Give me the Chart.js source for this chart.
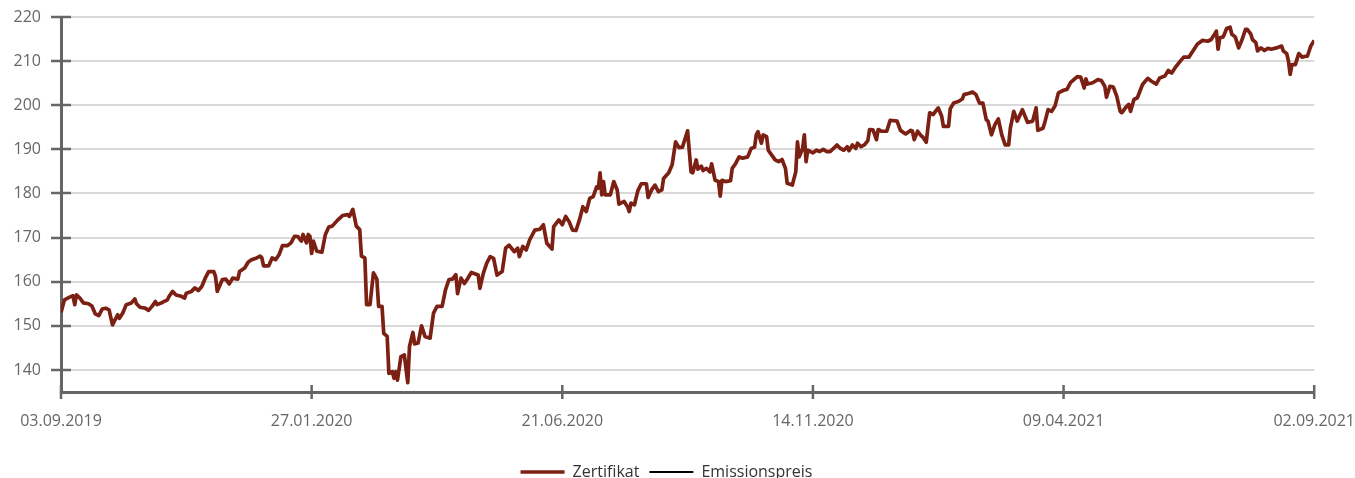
<!DOCTYPE html>
<html lang="de">
<head>
  <meta charset="UTF-8" />
  <title>Zertifikat vs. Emissionspreis</title>
  <script src="https://cdn.jsdelivr.net/npm/chart.js"></script>
  <style>
    body { margin: 0; overflow: hidden; background: #fff; }
    #wrap { position: relative; width: 1355px; height: 490px; }
  </style>
</head>
<body>
<div id="wrap"><canvas id="chart"></canvas></div>
<script>
// Tage seit 03.09.2019 (Kategorien) und Kurswerte des Zertifikats
const days = [
  0, 2, 5, 7, 8, 9, 11, 13, 16, 18, 20, 22, 24, 26, 28, 30, 31, 33, 34, 36, 38, 41, 43, 44, 46, 49, 51, 53, 55, 56,
  59, 62, 63, 65, 67, 70, 72, 73, 76, 78, 80, 82, 84, 86, 89, 90, 91, 94, 96, 98, 100, 103, 104, 107, 109, 111, 114, 116, 117, 118,
  121, 123, 125, 127, 129, 132, 134, 136, 138, 140, 141, 143, 144, 145, 146, 147, 149, 152, 154, 156, 158, 161, 164, 167, 168, 170, 171, 172, 174, 175,
  177, 178, 180, 182, 184, 185, 187, 188, 190, 191, 193, 194, 195, 196, 198, 200, 202, 203, 205, 206, 208, 210, 212, 215, 217, 219, 222, 224, 226, 228,
  230, 231, 233, 235, 237, 239, 241, 243, 244, 246, 248, 250, 252, 254, 257, 259, 261, 264, 266, 267, 269, 271, 273, 276, 279, 281, 283, 286, 287, 290,
  292, 294, 296, 298, 300, 302, 304, 306, 308, 310, 312, 313, 314, 315, 316, 317, 320, 322, 324, 325, 328, 330, 331, 332, 334, 336, 338, 341, 342, 344,
  346, 348, 350, 351, 354, 356, 358, 360, 362, 365, 367, 368, 370, 371, 373, 374, 376, 378, 379, 381, 383, 384, 385, 387, 390, 391, 393, 395, 397, 400,
  402, 404, 405, 406, 408, 409, 411, 412, 414, 416, 418, 420, 422, 423, 426, 428, 429, 430, 432, 433, 434, 435, 438, 440, 442, 444, 446, 448, 450, 452,
  454, 456, 458, 459, 461, 463, 464, 466, 468, 470, 471, 473, 475, 476, 478, 481, 483, 487, 489, 492, 495, 496, 497, 499, 501, 502, 504, 506, 508, 511,
  513, 514, 517, 518, 520, 523, 525, 526, 529, 531, 533, 535, 537, 539, 540, 542, 544, 546, 548, 550, 552, 553, 555, 557, 560, 562, 563, 566, 568, 569,
  572, 573, 575, 577, 579, 581, 584, 586, 588, 590, 592, 594, 596, 597, 598, 601, 604, 606, 608, 609, 611, 613, 615, 617, 618, 620, 622, 623, 625, 627,
  630, 633, 635, 638, 640, 643, 645, 647, 649, 652, 654, 657, 660, 662, 665, 668, 670, 671, 673, 674, 675, 677, 679, 681, 682, 684, 686, 688, 690, 691,
  693, 694, 696, 697, 699, 701, 703, 705, 708, 711, 712, 714, 715, 716, 717, 719, 721, 723, 725, 726, 728, 730
];
const zertifikat = [
  153.0, 155.9, 156.5, 156.8, 154.8, 157.0, 156.3, 155.2, 155.0, 154.5, 152.7, 152.3, 153.8, 154.0, 153.6, 150.2, 151.0, 152.5, 151.7, 152.9, 154.8, 155.2, 156.1, 155.0, 154.2, 154.0, 153.5, 154.4, 155.5, 154.8,
  155.3, 155.9, 156.7, 157.8, 157.0, 156.7, 156.3, 157.4, 157.8, 158.6, 158.0, 158.9, 160.8, 162.3, 162.3, 161.2, 157.8, 160.5, 160.6, 159.5, 160.8, 160.6, 162.3, 163.1, 164.4, 165.0, 165.4, 165.8, 165.4, 163.6,
  163.6, 165.4, 165.0, 166.1, 168.2, 168.2, 168.8, 170.3, 170.2, 169.2, 170.7, 168.8, 170.7, 170.3, 166.4, 169.2, 166.9, 166.7, 170.7, 172.4, 172.6, 173.9, 175.0, 175.2, 174.8, 176.4, 174.5, 172.6, 171.8, 165.8,
  165.4, 154.8, 154.8, 162.0, 160.6, 154.4, 154.4, 148.3, 147.6, 139.2, 139.6, 138.1, 139.6, 137.7, 143.0, 143.4, 137.1, 145.3, 148.5, 145.9, 146.1, 150.0, 147.6, 147.2, 152.9, 154.4, 154.4, 158.2, 160.5, 160.6,
  161.6, 157.3, 160.8, 159.6, 160.8, 162.1, 161.8, 161.5, 158.5, 161.9, 164.2, 165.7, 165.3, 161.5, 162.3, 167.6, 168.3, 166.8, 167.6, 165.7, 168.0, 167.2, 169.5, 171.7, 171.9, 172.9, 168.7, 167.4, 172.5, 174.0,
  172.9, 174.8, 173.6, 171.7, 171.6, 174.0, 177.0, 175.9, 178.9, 179.3, 181.5, 181.2, 184.7, 179.7, 182.7, 179.7, 179.7, 182.7, 180.8, 177.6, 178.2, 177.0, 175.9, 177.8, 177.4, 180.6, 182.2, 182.2, 179.1, 180.8,
  181.9, 180.4, 180.8, 183.4, 184.7, 186.5, 191.7, 190.4, 190.5, 194.2, 184.9, 184.7, 187.6, 185.5, 186.2, 185.2, 185.7, 184.9, 186.7, 183.0, 182.7, 179.4, 183.0, 182.7, 182.9, 185.7, 186.8, 188.3, 188.0, 188.3,
  190.2, 190.5, 193.3, 194.0, 191.4, 193.3, 192.9, 189.8, 188.7, 187.6, 187.2, 187.7, 185.7, 182.3, 181.9, 184.9, 191.7, 188.3, 190.2, 193.3, 187.2, 189.8, 189.2, 189.8, 189.5, 190.0, 189.5, 189.5, 190.2, 191.0,
  190.2, 189.8, 190.6, 189.7, 191.0, 190.2, 191.4, 190.6, 191.0, 192.0, 194.5, 194.4, 192.2, 194.5, 194.1, 194.1, 196.6, 196.4, 194.3, 193.5, 194.3, 194.1, 192.2, 194.1, 193.1, 192.8, 191.6, 198.3, 197.9, 199.4,
  197.5, 195.2, 195.2, 199.2, 200.5, 200.9, 201.4, 202.4, 202.7, 203.0, 202.4, 200.5, 200.5, 196.7, 196.4, 193.3, 195.6, 196.9, 193.3, 191.0, 191.0, 194.8, 198.6, 196.4, 199.0, 197.1, 196.1, 196.4, 199.4, 194.3,
  194.8, 196.0, 199.0, 198.6, 199.8, 202.8, 203.4, 203.6, 205.1, 205.8, 206.5, 206.4, 203.9, 206.0, 204.8, 205.1, 205.8, 205.6, 204.3, 201.8, 204.3, 204.1, 202.0, 198.6, 198.3, 199.4, 200.2, 198.6, 201.3, 201.7,
  204.7, 206.1, 205.5, 204.8, 206.2, 206.6, 207.9, 207.3, 208.5, 210.0, 210.9, 210.9, 212.7, 213.9, 214.7, 214.5, 214.9, 215.5, 216.8, 212.7, 215.3, 215.5, 217.4, 217.7, 216.1, 215.5, 213.0, 214.9, 217.2, 217.2,
  216.2, 214.9, 214.2, 212.3, 213.0, 212.4, 212.9, 212.7, 213.0, 213.4, 212.3, 211.7, 210.0, 207.0, 209.2, 209.2, 211.7, 210.9, 211.1, 211.1, 213.4, 214.7
];
// Emissionspreis liegt ausserhalb des sichtbaren Bereichs -> keine Punkte im Bild
const emissionspreis = [];

const xTickLabels = ['03.09.2019', '27.01.2020', '21.06.2020', '14.11.2020', '09.04.2021', '02.09.2021'];
const xTickStep = 146;
const yTicks = [140, 150, 160, 170, 180, 190, 200, 210, 220];

Chart.defaults.font.family = "'Open Sans', sans-serif";
Chart.defaults.font.size = 16;
Chart.defaults.color = '#666';

const AXIS = '#666';

// kurze Striche auf beiden Seiten der Achsen
const tickMarks = {
  id: 'tickMarks',
  afterDatasetsDraw(chart) {
    const { ctx, scales: { x, y }, chartArea } = chart;
    ctx.save();
    ctx.strokeStyle = AXIS;
    ctx.lineWidth = 2.5;
    y.ticks.forEach(t => {
      const py = Math.round(y.getPixelForValue(t.value));
      ctx.beginPath();
      ctx.moveTo(chartArea.left - 10, py);
      ctx.lineTo(chartArea.left + 10, py);
      ctx.stroke();
    });
    x.ticks.forEach(t => {
      const px = x.getPixelForValue(t.value);
      ctx.beginPath();
      ctx.moveTo(px, chartArea.bottom - 7);
      ctx.lineTo(px, chartArea.bottom + 7);
      ctx.stroke();
    });
    ctx.restore();
  }
};

new Chart(document.getElementById('chart'), {
  type: 'line',
  data: {
    datasets: [
      {
        label: 'Zertifikat',
        data: days.map((d, i) => ({ x: d, y: zertifikat[i] })),
        borderColor: '#7b2012',
        backgroundColor: '#7b2012',
        borderWidth: 3.7,
        borderJoinStyle: 'round',
        pointRadius: 0,
        tension: 0
      },
      {
        label: 'Emissionspreis',
        data: emissionspreis,
        borderColor: '#000',
        backgroundColor: '#000',
        borderWidth: 2,
        pointRadius: 0
      }
    ]
  },
  options: {
    responsive: true,
    maintainAspectRatio: false,
    animation: false,
    layout: { padding: { top: 17, left: 0, right: 22 } },
    plugins: {
      legend: {
        position: 'bottom',
        labels: {
          usePointStyle: true,
          pointStyle: 'line',
          pointStyleWidth: 44,
          padding: 10,
          color: '#333'
        }
      },
      tooltip: { enabled: false }
    },
    scales: {
      x: {
        type: 'linear',
        min: 0,
        max: 730,
        grid: { display: false, drawTicks: true, tickLength: 20, tickColor: 'transparent' },
        border: { display: true, color: AXIS, width: 3 },
        ticks: {
          stepSize: xTickStep,
          padding: 0,
          maxRotation: 0,
          autoSkip: false,
          callback: (v, i) => xTickLabels[i]
        },
        afterFit: s => { s.height = 62; }
      },
      y: {
        min: 135,
        max: 220,
        afterBuildTicks: s => { s.ticks = yTicks.map(v => ({ value: v })); },
        grid: { color: '#d9d9d9', lineWidth: 2, drawTicks: true, tickLength: 20, tickColor: 'transparent' },
        border: { display: true, color: AXIS, width: 3 },
        ticks: { padding: 0 },
        afterFit: s => { s.width = 61; }
      }
    }
  },
  plugins: [tickMarks]
});
</script>
</body>
</html>
